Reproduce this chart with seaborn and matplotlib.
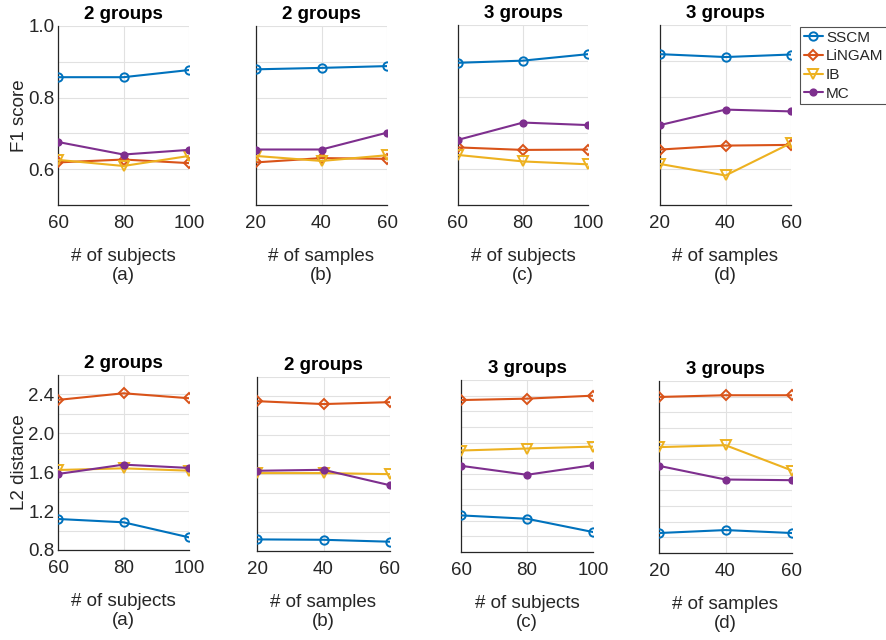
import numpy as np
import pandas as pd
import matplotlib
matplotlib.use("Agg")
import matplotlib.pyplot as plt
from matplotlib.lines import Line2D
import seaborn as sns


methods = ["SSCM", "LiNGAM", "IB", "MC"]
subjects = [60, 80, 100]
samples = [20, 40, 60]

# rows: SSCM, LiNGAM, IB, MC
f1_a = [[0.857, 0.857, 0.877], [0.619, 0.627, 0.617], [0.626, 0.609, 0.637], [0.676, 0.641, 0.654]]
f1_b = [[0.879, 0.883, 0.888], [0.619, 0.631, 0.629], [0.637, 0.623, 0.639], [0.655, 0.655, 0.702]]
f1_c = [[0.895, 0.901, 0.919], [0.660, 0.653, 0.654], [0.639, 0.621, 0.613], [0.681, 0.729, 0.722]]
f1_d = [[0.919, 0.911, 0.918], [0.654, 0.665, 0.667], [0.614, 0.582, 0.672], [0.722, 0.765, 0.760]]

l2_a = [[1.119, 1.085, 0.930], [2.344, 2.412, 2.361], [1.623, 1.640, 1.616], [1.582, 1.678, 1.644]]
l2_b = [[0.920, 0.916, 0.896], [2.350, 2.320, 2.340], [1.606, 1.606, 1.595], [1.630, 1.640, 1.480]]
l2_c = [[1.183, 1.148, 1.009], [2.390, 2.405, 2.436], [1.862, 1.883, 1.903], [1.702, 1.608, 1.709]]
l2_d = [[1.009, 1.040, 1.009], [2.433, 2.451, 2.451], [1.908, 1.928, 1.663], [1.712, 1.569, 1.562]]

titles = ["2 groups", "2 groups", "3 groups", "3 groups"]
xlabels = ["# of subjects", "# of samples", "# of subjects", "# of samples"]
letters = ["(a)", "(b)", "(c)", "(d)"]


colors = ["#0072BD", "#D95319", "#EDB120", "#7E2F8E"]
markers = ["o", "D", "v", "o"]
msizes = [6, 5, 7, 4.5]
filled = [False, False, False, True]

W, H = 886, 640

# axes boxes in pixels: left, top, right, bottom
top_boxes = [(58, 26, 189, 205), (256, 26, 387, 205), (458, 25, 588, 205), (660, 25, 791, 205)]
bot_boxes = [(58, 375, 189, 550), (257, 377, 390, 551), (461, 380, 593, 552), (659, 381, 792, 553)]


sns.set_style("white")
plt.rcParams["font.family"] = ["Liberation Sans", "DejaVu Sans"]

fig = plt.figure(figsize=(W / 100, H / 100), dpi=100)


def make_ax(box):
    l, t, r, b = box
    return fig.add_axes([l / W, 1 - b / H, (r - l) / W, (b - t) / H])


def draw_panel(ax, xs, vals, title, xlabel, letter):
    rows = []
    for m, v in zip(methods, vals):
        for x, y in zip(xs, v):
            rows.append({"x": x, "y": y, "method": m})
    df = pd.DataFrame(rows)

    for i, m in enumerate(methods):
        sub = df[df["method"] == m]
        sns.lineplot(
            data=sub, x="x", y="y", ax=ax,
            color=colors[i],
            marker=markers[i],
            markersize=msizes[i],
            markerfacecolor=colors[i] if filled[i] else "none",
            markeredgecolor=colors[i],
            markeredgewidth=1.4,
            linewidth=1.5,
            legend=False,
            zorder=3,
        )

    ax.set_xlim(xs[0], xs[-1])
    ax.set_xticks(xs)
    ax.set_title(title, fontsize=13.5, fontweight="bold", color="black", pad=5)
    ax.set_xlabel(xlabel + "\n" + letter, fontsize=13.5, color="#262626",
                  labelpad=11, linespacing=1.15)
    ax.set_ylabel("")

    ax.grid(True, color="#e1e1e1", linewidth=0.8, zorder=0)
    ax.set_axisbelow(True)
    for s in ["top", "right"]:
        ax.spines[s].set_visible(False)
    for s in ["left", "bottom"]:
        ax.spines[s].set_color("#262626")
        ax.spines[s].set_linewidth(0.9)
    ax.tick_params(direction="in", length=3, width=0.8, colors="#262626",
                   labelsize=13.5)
    ax.tick_params(axis="x", pad=7.5)
    ax.tick_params(axis="y", pad=2.5)


# top row: F1 score
f1_sets = [f1_a, f1_b, f1_c, f1_d]
for k in range(4):
    ax = make_ax(top_boxes[k])
    xs = subjects if k % 2 == 0 else samples
    draw_panel(ax, xs, f1_sets[k], titles[k], xlabels[k], letters[k])
    ax.set_ylim(0.5, 1.0)
    ax.set_yticks(np.arange(0.5, 1.01, 0.1))
    if k == 0:
        ax.set_yticklabels(["", "0.6", "", "0.8", "", "1.0"])
        ax.set_ylabel("F1 score", fontsize=13.5, color="#262626", labelpad=0)
    else:
        ax.set_yticklabels([])

# bottom row: L2 distance
l2_sets = [l2_a, l2_b, l2_c, l2_d]
for k in range(4):
    ax = make_ax(bot_boxes[k])
    xs = subjects if k % 2 == 0 else samples
    draw_panel(ax, xs, l2_sets[k], titles[k], xlabels[k], letters[k])
    ax.set_ylim(0.8, 2.6)
    if k < 2:
        ax.set_yticks(np.arange(0.8, 2.61, 0.2))
    else:
        ax.set_yticks(np.linspace(0.8, 2.6, 12))
    if k == 0:
        ax.set_yticklabels(["0.8", "", "1.2", "", "1.6", "", "2.0", "", "2.4", ""])
        ax.set_ylabel("L2 distance", fontsize=13.5, color="#262626", labelpad=0)
    else:
        ax.set_yticklabels([])

handles = []
for i, m in enumerate(methods):
    handles.append(Line2D([0], [0], color=colors[i], marker=markers[i],
                          markersize=msizes[i], linewidth=1.5,
                          markerfacecolor=colors[i] if filled[i] else "none",
                          markeredgecolor=colors[i], markeredgewidth=1.4))

leg = fig.legend(handles, methods, loc="upper left",
                 bbox_to_anchor=(800 / W, 1 - 27 / H),
                 fontsize=11, frameon=True, fancybox=False,
                 borderpad=0.25, labelspacing=0.3, handlelength=1.25,
                 handletextpad=0.2, borderaxespad=0)
leg.get_frame().set_edgecolor("#262626")
leg.get_frame().set_linewidth(0.8)

fig.savefig("out.png", dpi=100)
